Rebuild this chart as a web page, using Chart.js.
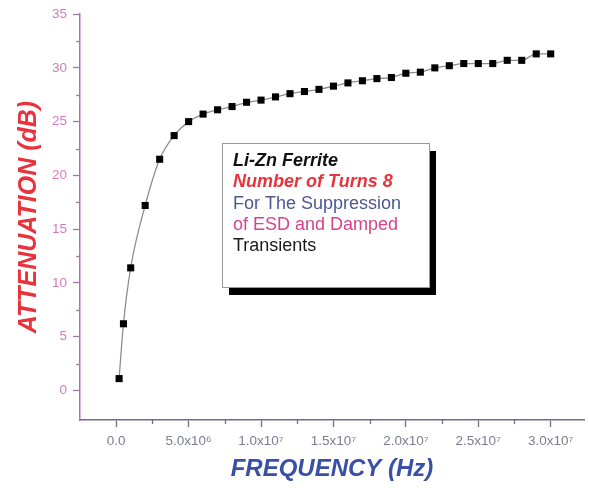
<!DOCTYPE html>
<html>
<head>
<meta charset="utf-8">
<script src="https://cdn.jsdelivr.net/npm/chart.js@4/dist/chart.umd.min.js"></script>
<style>
  html, body { margin: 0; padding: 0; background: #ffffff; }
  #wrap { width: 589px; height: 488px; }
</style>
</head>
<body>
<div id="wrap"><canvas id="c" width="589" height="488"></canvas></div>
<script>
// Measured attenuation of the Li-Zn ferrite bead versus frequency
const frequencyHz = [
  0.2e6, 0.5e6, 1e6, 2e6, 3e6, 4e6, 5e6, 6e6, 7e6, 8e6, 9e6, 10e6,
  11e6, 12e6, 13e6, 14e6, 15e6, 16e6, 17e6, 18e6, 19e6, 20e6, 21e6,
  22e6, 23e6, 24e6, 25e6, 26e6, 27e6, 28e6, 29e6, 30e6
];
const attenuationDb = [
  1.1, 6.2, 11.4, 17.2, 21.5, 23.7, 25.0, 25.7, 26.1, 26.4, 26.8, 27.0,
  27.3, 27.6, 27.8, 28.0, 28.3, 28.6, 28.8, 29.0, 29.1, 29.5, 29.6,
  30.0, 30.2, 30.4, 30.4, 30.4, 30.7, 30.7, 31.3, 31.3
];

// Axis ticks
const xTickValues = [0, 5e6, 1e7, 1.5e7, 2e7, 2.5e7, 3e7];
const xTickLabels = ['0.0', '5.0x10\u2076', '1.0x10\u2077', '1.5x10\u2077', '2.0x10\u2077', '2.5x10\u2077', '3.0x10\u2077'];
const xMinorTicks = [2.5e6, 7.5e6, 1.25e7, 1.75e7, 2.25e7, 2.75e7];
const yTickValues = [0, 5, 10, 15, 20, 25, 30, 35];
const yTickLabels = ['0', '5', '10', '15', '20', '25', '30', '35'];
const yMinorTicks = [2.5, 7.5, 12.5, 17.5, 22.5, 27.5, 32.5];

// Caption box lines
const captionLines = [
  'Li-Zn Ferrite',
  'Number of Turns 8',
  'For The Suppression',
  'of ESD and Damped',
  'Transients'
];

const X_AXIS_COLOR = '#6e6e8c';
const Y_AXIS_COLOR = '#a676ae';
const FONT = '"Liberation Sans", Arial, sans-serif';

// Short minor ticks on both axes
const minorTicks = {
  id: 'minorTicks',
  afterDraw(chart) {
    const { ctx, scales: { x, y }, chartArea } = chart;
    ctx.save();
    ctx.lineWidth = 1.3;
    ctx.strokeStyle = X_AXIS_COLOR;
    xMinorTicks.forEach(v => {
      const px = Math.round(x.getPixelForValue(v)) + 0.5;
      ctx.beginPath();
      ctx.moveTo(px, chartArea.bottom);
      ctx.lineTo(px, chartArea.bottom + 4);
      ctx.stroke();
    });
    ctx.strokeStyle = Y_AXIS_COLOR;
    yMinorTicks.forEach(v => {
      const py = Math.round(y.getPixelForValue(v)) + 0.5;
      ctx.beginPath();
      ctx.moveTo(chartArea.left - 4, py);
      ctx.lineTo(chartArea.left, py);
      ctx.stroke();
    });
    ctx.restore();
  }
};

// Caption box with a drop shadow
const captionBox = {
  id: 'captionBox',
  afterDraw(chart) {
    const { ctx } = chart;
    const bx = 222, by = 143, bw = 207, bh = 144;
    ctx.save();
    ctx.fillStyle = '#000000';
    ctx.fillRect(bx + 7, by + 8, bw, bh);
    ctx.fillStyle = '#ffffff';
    ctx.fillRect(bx, by, bw, bh);
    ctx.strokeStyle = '#9a9a9a';
    ctx.lineWidth = 1;
    ctx.strokeRect(bx + 0.5, by + 0.5, bw, bh);

    const styles = [
      { font: 'italic bold 18px ' + FONT, color: '#111111' },
      { font: 'italic bold 18px ' + FONT, color: '#e8323c' },
      { font: '18px ' + FONT, color: '#4c5892' },
      { font: '18px ' + FONT, color: '#d6428c' },
      { font: '18px ' + FONT, color: '#1a1a1a' }
    ];
    ctx.textBaseline = 'middle';
    ctx.textAlign = 'left';
    captionLines.forEach((t, i) => {
      ctx.font = styles[i].font;
      ctx.fillStyle = styles[i].color;
      ctx.fillText(t, 233, 161 + i * 21.3);
    });
    ctx.restore();
  }
};

new Chart(document.getElementById('c'), {
  type: 'line',
  data: {
    datasets: [{
      data: frequencyHz.map((f, i) => ({ x: f, y: attenuationDb[i] })),
      borderColor: '#8e8e8e',
      borderWidth: 1.3,
      cubicInterpolationMode: 'monotone',
      pointStyle: 'rect',
      pointRadius: 5,
      pointBorderWidth: 0,
      pointBackgroundColor: '#000000',
      pointBorderColor: '#000000',
      fill: false
    }]
  },
  options: {
    responsive: false,
    devicePixelRatio: 1,
    animation: false,
    layout: { padding: { top: 14, left: 0, right: 0, bottom: 0 } },
    plugins: {
      legend: { display: false },
      tooltip: { enabled: false }
    },
    scales: {
      x: {
        type: 'linear',
        min: -2.5e6,
        max: 3.23e7,
        afterBuildTicks: s => { s.ticks = xTickValues.map(v => ({ value: v })); },
        afterFit: s => { s.height = 68; },
        border: { display: true, color: X_AXIS_COLOR, width: 1.5 },
        grid: { display: true, drawOnChartArea: false, drawTicks: true, tickLength: 7, color: X_AXIS_COLOR, tickWidth: 1.3 },
        ticks: {
          autoSkip: false,
          maxRotation: 0,
          padding: 6,
          color: '#7c7c94',
          font: { family: FONT, size: 13.5 },
          callback: (v, i) => xTickLabels[i]
        },
        title: {
          display: true,
          text: 'FREQUENCY (Hz)',
          color: '#3a50a6',
          font: { family: FONT, size: 24, weight: 'bold', style: 'italic' },
          padding: { top: 0, bottom: 4 }
        }
      },
      y: {
        type: 'linear',
        min: -2.75,
        max: 35,
        afterBuildTicks: s => { s.ticks = yTickValues.map(v => ({ value: v })); },
        afterFit: s => { s.width = 80; },
        border: { display: true, color: Y_AXIS_COLOR, width: 1.5 },
        grid: { display: true, drawOnChartArea: false, drawTicks: true, tickLength: 7, color: Y_AXIS_COLOR, tickWidth: 1.3 },
        ticks: {
          autoSkip: false,
          padding: 6,
          color: '#d47cba',
          font: { family: FONT, size: 13.5 },
          callback: (v, i) => yTickLabels[i]
        },
        title: {
          display: true,
          text: 'ATTENUATION (dB)',
          color: '#e8323c',
          font: { family: FONT, size: 25, weight: 'bold', style: 'italic' },
          padding: { top: 14, bottom: 0 }
        }
      }
    }
  },
  plugins: [minorTicks, captionBox]
});
</script>
</body>
</html>
